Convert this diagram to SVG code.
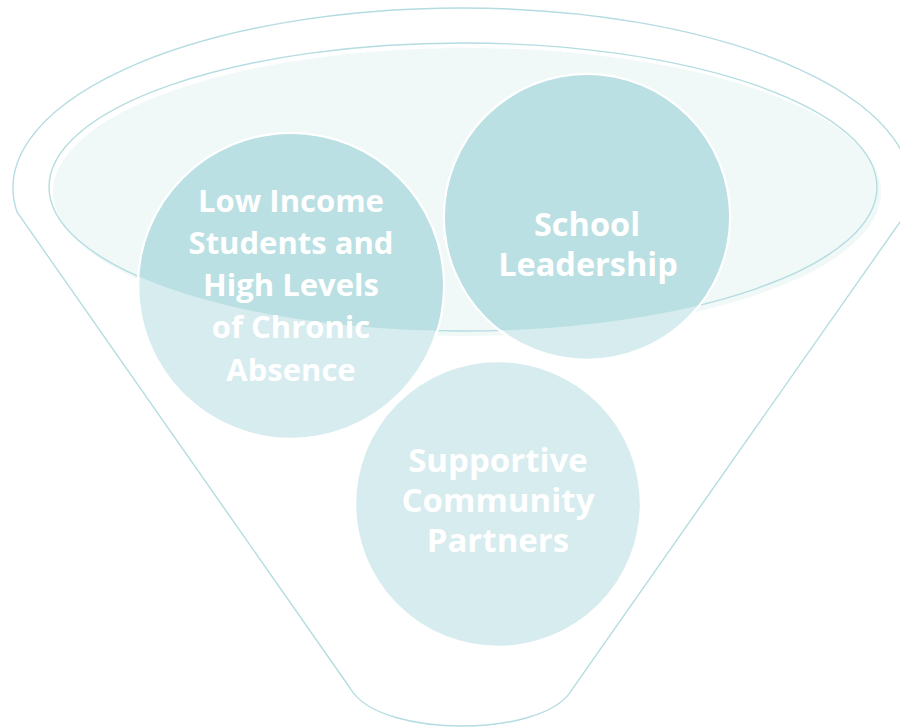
<svg xmlns="http://www.w3.org/2000/svg" width="900" height="727" viewBox="0 0 900 727">
  <style>
    .line { fill: none; stroke: #B5DDE1; stroke-width: 1.4; }
    .circ { fill: #D6ECEF; stroke: #FFFFFF; stroke-width: 2.5; }
    .dark { fill: #BBE0E3; }
    .lbl { font-family: "Open Sans", "Liberation Sans", sans-serif; font-weight: 700; font-size: 31px; fill: #FFFFFF; text-anchor: middle; }
    .big { font-size: 33px; }
    .mid { font-size: 32.5px; }
  </style>
  <defs>
    <clipPath id="ellClip">
      <ellipse cx="463" cy="187" rx="414" ry="144"/>
    </clipPath>
  </defs>
  <rect width="900" height="727" fill="#FFFFFF"/>
  <g id="funnel">
    <path class="line" d="M 17 212 A 449 180 0 1 1 907 212 L 573 688 C 558 716 505 726 462 726 C 419 726 366 716 350 688 Z"/>
  </g>
  <g id="rim">
    <ellipse cx="467" cy="192" rx="414" ry="144" fill="#F0F8F8"/>
    <ellipse class="line" cx="463" cy="187" rx="414" ry="144"/>
  </g>
  <g id="connectors"/>
  <g id="node-community">
    <circle class="circ" cx="498" cy="504" r="143"/>
    <text class="lbl big" x="498" y="472">Supportive</text>
    <text class="lbl big" x="498" y="512">Community</text>
    <text class="lbl big" x="498" y="552">Partners</text>
  </g>
  <g id="node-low-income">
    <circle class="circ" cx="291" cy="286" r="153"/>
    <circle class="dark" cx="291" cy="286" r="152" clip-path="url(#ellClip)"/>
    <text class="lbl" x="291" y="212">Low Income</text>
    <text class="lbl" x="291" y="254">Students and</text>
    <text class="lbl" x="291" y="296">High Levels</text>
    <text class="lbl" x="291" y="338">of Chronic</text>
    <text class="lbl" x="291" y="381">Absence</text>
  </g>
  <g id="node-school">
    <circle class="circ" cx="587" cy="217" r="143"/>
    <circle class="dark" cx="587" cy="217" r="142" clip-path="url(#ellClip)"/>
    <text class="lbl mid" x="587" y="236">School</text>
    <text class="lbl mid" x="588" y="276">Leadership</text>
  </g>
</svg>
